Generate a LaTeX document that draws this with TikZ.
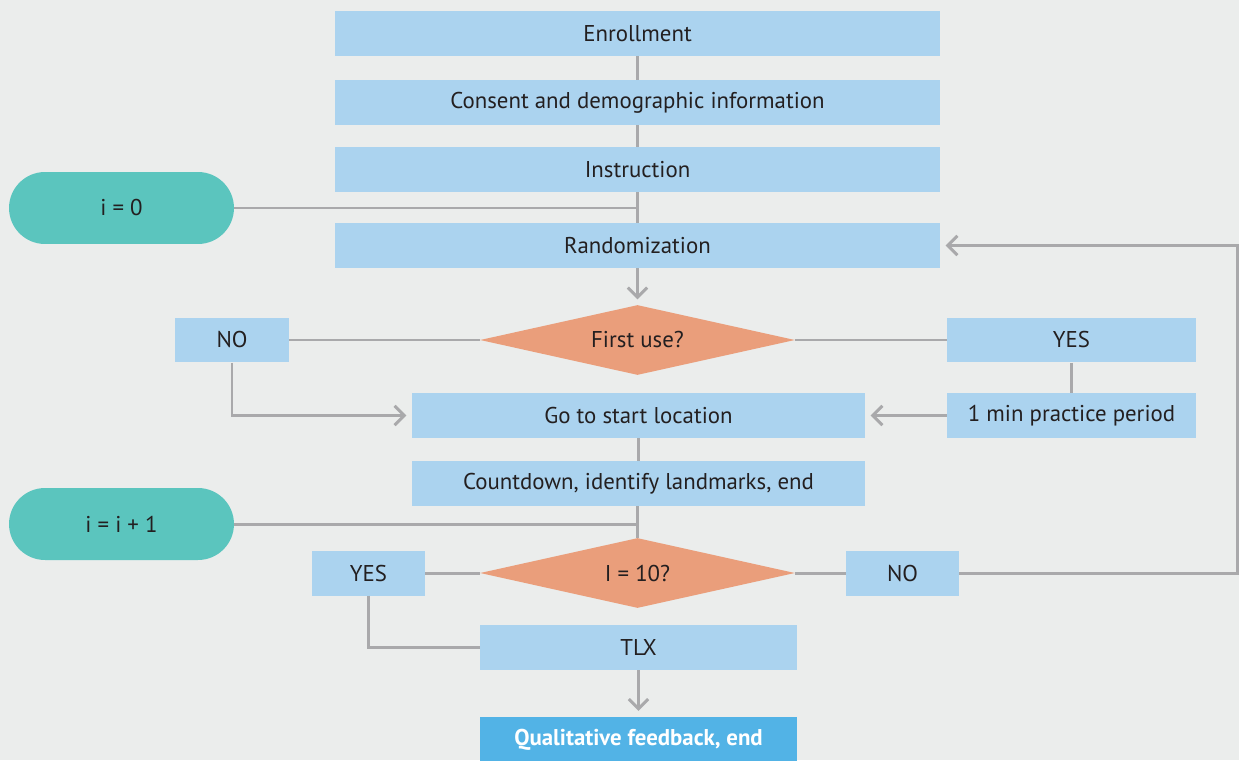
\documentclass[tikz,border=0pt]{standalone}
\usepackage{fontspec}
\setmainfont{PT Sans}
\usepackage{tikz}
\usetikzlibrary{shapes.geometric,arrows.meta}
\definecolor{bgcol}{HTML}{EBEDEC}
\definecolor{boxcol}{HTML}{ABD3EF}
\definecolor{endcol}{HTML}{52B3E6}
\definecolor{pillcol}{HTML}{5BC5BE}
\definecolor{decol}{HTML}{EA9E7B}
\definecolor{linecol}{HTML}{A9A9AB}
\definecolor{txtcol}{HTML}{231F20}
\begin{document}
\begin{tikzpicture}[x=0.02cm,y=-0.02cm,
	box/.style={fill=boxcol,text=txtcol,inner sep=0pt,minimum height=0.9cm,font=\fontsize{13}{15}\selectfont},
	pill/.style={fill=pillcol,text=txtcol,inner sep=0pt,minimum width=4.5cm,minimum height=1.44cm,rounded corners=0.72cm,font=\fontsize{13}{15}\selectfont},
	decision/.style={diamond,fill=decol,text=txtcol,inner sep=0pt,aspect=4.5,minimum width=6.3cm,minimum height=1.4cm,font=\fontsize{13}{15}\selectfont},
	link/.style={draw=linecol,line width=1.7pt},
	arr/.style={link,-{Straight Barb[length=5.5pt,width=11pt]},shorten >=3pt}]
		\fill[bgcol] (0,0) rectangle (1239,760);
		\useasboundingbox (0,0) rectangle (1239,760);
		
		\node[box,minimum width=12.1cm] (enr) at (637.5,33.5) {Enrollment};
		\node[box,minimum width=12.1cm] (cons) at (637.5,102.5) {Consent and demographic information};
		\node[box,minimum width=12.1cm] (instr) at (637.5,169.5) {Instruction};
		\node[pill] (izero) at (121.5,208) {i = 0};
		\node[box,minimum width=12.1cm] (rand) at (637.5,245.5) {Randomization};
		\node[decision] (first) at (637.5,340) {First use?};
		\node[box,minimum width=2.28cm] (no1) at (232,340) {NO};
		\node[box,minimum width=4.98cm] (yes1) at (1071.5,340) {YES};
		\node[box,minimum width=9.06cm] (go) at (638.5,415.5) {Go to start location};
		\node[box,minimum width=4.98cm] (prac) at (1071.5,415.5) {1 min practice period};
		\node[box,minimum width=9.06cm] (count) at (638.5,483.5) {Countdown, identify landmarks, end};
		\node[pill] (iinc) at (121.5,524) {i = i + 1};
		\node[decision] (ten) at (637.5,573) {I = 10?};
		\node[box,minimum width=2.26cm] (yes2) at (368.5,573) {YES};
		\node[box,minimum width=2.26cm] (no2) at (902.5,573) {NO};
		\node[box,minimum width=6.34cm] (tlx) at (638.5,647.5) {TLX};
		\node[box,minimum width=6.34cm,minimum height=0.94cm,fill=endcol,text=white,font=\fontsize{13}{15}\selectfont\bfseries] (qual) at (638.5,740) {Qualitative feedback, end};
		\coordinate (back) at (1237.5,573);
		
		% connectors
		\draw[link] (enr) -- (cons);
		\draw[link] (cons) -- (instr);
		\draw[link] (instr) -- (rand);
		\draw[link] (izero) -- (izero -| rand);
		\draw[arr] (rand) -- (first);
		\draw[link] (first) -- (no1);
		\draw[link] (first) -- (yes1);
		\draw[arr] (no1) |- (go);
		\draw[link] (yes1) -- (prac);
		\draw[arr] (prac) -- (go);
		\draw[link] (go) -- (count);
		\draw[link] (count.south -| ten) -- (ten);
		\draw[link] (iinc) -- (iinc -| ten);
		\draw[link] (ten) -- (yes2);
		\draw[link] (ten) -- (no2);
		\draw[arr] (no2) -- (back) |- (rand);
		\draw[link] (yes2) |- (tlx);
		\draw[arr] (tlx) -- (qual);
		\end{tikzpicture}
\end{document}
